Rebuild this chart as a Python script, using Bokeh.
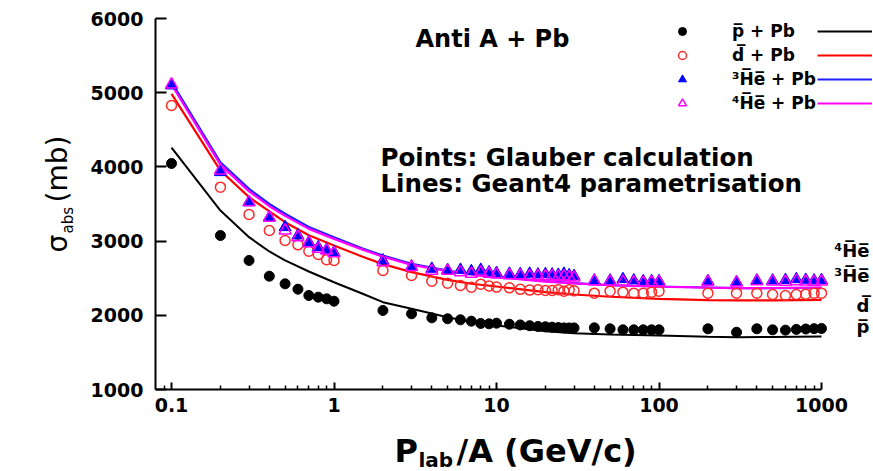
import math
from bokeh.plotting import figure
from bokeh.models import Range1d, FixedTicker, Label, Legend, LegendItem, BasicTickFormatter
from bokeh.embed import file_html
from bokeh.resources import INLINE

# ---------------- data ----------------
x_glauber = [0.1, 0.2, 0.3, 0.4, 0.5, 0.6, 0.7, 0.8, 0.9, 1,
             2, 3, 4, 5, 6, 7, 8, 9, 10,
             12, 14, 16, 18, 20, 22, 24, 26, 28, 30,
             40, 50, 60, 70, 80, 90, 100,
             200, 300, 400, 500, 600, 700, 800, 900, 1000]

pbar_pts = [4046, 3075, 2739, 2527, 2424, 2352, 2267, 2244, 2222, 2190,
            2065, 2020, 1966, 1953, 1939, 1921, 1890, 1885, 1894,
            1880, 1870, 1860, 1850, 1845, 1840, 1835, 1830, 1830, 1830,
            1831, 1818, 1804, 1804, 1804, 1804, 1804,
            1818, 1772, 1818, 1804, 1800, 1810, 1815, 1820, 1822]

dbar_pts = [4828, 3727, 3358, 3143, 3008, 2950, 2864, 2819, 2748, 2739,
            2604, 2536, 2460, 2433, 2402, 2379, 2420, 2395, 2380,
            2370, 2350, 2340, 2344, 2334, 2334, 2344, 2325, 2344, 2330,
            2298, 2325, 2312, 2298, 2298, 2312, 2325,
            2298, 2298, 2298, 2280, 2267, 2280, 2285, 2298, 2298]

he3_pts = [5097, 3929, 3524, 3320, 3188, 3076, 2985, 2918, 2883, 2850,
           2739, 2658, 2627, 2610, 2613, 2595, 2613, 2580, 2570,
           2560, 2555, 2560, 2550, 2555, 2550, 2545, 2560, 2540, 2530,
           2469, 2469, 2487, 2470, 2460, 2460, 2460,
           2460, 2446, 2469, 2469, 2475, 2487, 2478, 2469, 2475]

he4_pts = [5110, 3951, 3524, 3314, 3143, 3053, 2972, 2896, 2873, 2837,
           2716, 2650, 2600, 2600, 2580, 2560, 2575, 2560, 2550,
           2540, 2535, 2530, 2530, 2525, 2530, 2520, 2525, 2515, 2510,
           2460, 2455, 2450, 2445, 2440, 2445, 2445,
           2450, 2440, 2460, 2455, 2450, 2460, 2455, 2450, 2455]

x_geant = [0.1, 0.2, 0.3, 0.4, 0.5, 0.7, 1, 1.5, 2, 3, 5, 7, 10, 20, 30, 50, 100, 200, 300, 500, 1000]
pbar_line = [4260, 3412, 3053, 2860, 2739, 2590, 2446, 2290, 2177, 2087, 1974, 1910, 1862, 1786, 1759, 1740, 1728, 1712, 1705, 1708, 1714]
dbar_line = [4985, 3951, 3592, 3400, 3255, 3080, 2941, 2790, 2690, 2582, 2478, 2425, 2388, 2312, 2280, 2250, 2222, 2205, 2200, 2200, 2209]
he3_line = [5142, 4063, 3704, 3500, 3368, 3190, 3053, 2900, 2806, 2694, 2604, 2555, 2523, 2460, 2433, 2405, 2388, 2375, 2366, 2366, 2370]
he4_line = [5110, 4030, 3670, 3470, 3340, 3165, 3030, 2885, 2790, 2680, 2595, 2550, 2515, 2455, 2430, 2405, 2385, 2372, 2366, 2368, 2372]

series_labels = ["p\u0305 + Pb", "d\u0305 + Pb", "\u00b3H\u0305e\u0305 + Pb", "\u2074H\u0305e\u0305 + Pb"]
side_labels = ["\u2074H\u0305e\u0305", "\u00b3H\u0305e\u0305", "d\u0305", "p\u0305"]

x_major = [0.1, 1, 10, 100, 1000]
x_tick_labels = ["0.1", "1", "10", "100", "1000"]
x_minor = [0.09, 0.2, 0.3, 0.4, 0.5, 0.6, 0.7, 0.8, 0.9,
           2, 3, 4, 5, 6, 7, 8, 9,
           20, 30, 40, 50, 60, 70, 80, 90,
           200, 300, 400, 500, 600, 700, 800, 900]
y_major = [1000, 2000, 3000, 4000, 5000, 6000]

FONT = "DejaVu Sans"

# ---------------- layout geometry (pixels) ----------------
W, H = 873, 471
FL, FR, FT, FB = 155, 821, 18, 389          # axis box in canvas pixels
X_LO, X_HI = 0.0797, 1000.0
Y_LO, Y_HI = 1000.0, 6000.0
# extend ranges so the frame fills the whole canvas and the axes sit at the box
lx0, lx1 = math.log10(X_LO), math.log10(X_HI)
ppd = (FR - FL) / (lx1 - lx0)
xr0 = 10 ** (lx0 - FL / ppd)
xr1 = 10 ** (lx1 + (W - FR) / ppd)
ppu = (FB - FT) / (Y_HI - Y_LO)
yr0 = Y_LO - (H - FB) / ppu
yr1 = Y_HI + FT / ppu

p = figure(width=W, height=H, x_axis_type="log",
           x_range=Range1d(xr0, xr1), y_range=Range1d(yr0, yr1),
           output_backend="svg", toolbar_location=None, min_border=0)
p.outline_line_color = None
p.grid.visible = False
p.background_fill_color = "white"
p.border_fill_color = "white"

xa = p.xaxis[0]
ya = p.yaxis[0]
xa.fixed_location = Y_LO
ya.fixed_location = X_LO
xa.bounds = (X_LO, X_HI)
ya.bounds = (Y_LO, Y_HI)
xa.ticker = FixedTicker(ticks=x_major, minor_ticks=x_minor)
xa.formatter = BasicTickFormatter(use_scientific=False)
xa.major_label_overrides = {t: l for t, l in zip(x_major, x_tick_labels)}
ya.ticker = FixedTicker(ticks=y_major, minor_ticks=[])

for ax in (xa, ya):
    ax.axis_line_width = 2
    ax.axis_line_color = "black"
    ax.major_tick_line_width = 2
    ax.major_tick_line_color = "black"
    ax.major_tick_out = 0
    ax.minor_tick_out = 0
    ax.major_label_text_font = FONT
    ax.major_label_text_font_style = "bold"
    ax.major_label_text_font_size = "19px"
    ax.major_label_text_color = "black"
xa.major_tick_in = 7
xa.minor_tick_in = 4
xa.minor_tick_line_width = 1.5
xa.minor_tick_line_color = "black"
xa.major_label_standoff = 8
ya.major_tick_in = 11
ya.minor_tick_line_color = None
ya.major_label_standoff = 12

# ---------------- lines ----------------
l_p = p.line(x_geant, pbar_line, line_color="black", line_width=2)
l_d = p.line(x_geant, dbar_line, line_color="#ff0000", line_width=2.2)
l_h3 = p.line(x_geant, he3_line, line_color="#1f1fff", line_width=2.2)
l_h4 = p.line(x_geant, he4_line, line_color="#ff00ff", line_width=2.2)

# ---------------- points ----------------
s_p = p.scatter(x_glauber, pbar_pts, marker="circle", size=10, fill_color="black", line_color="black")
s_d = p.scatter(x_glauber, dbar_pts, marker="circle", size=10, fill_color=None, line_color="#ff2a2a", line_width=1.5)
s_h3 = p.scatter(x_glauber, he3_pts, marker="triangle", size=12, fill_color="#0000ff", line_color="#0000ff")
s_h4 = p.scatter(x_glauber, he4_pts, marker="triangle", size=12, fill_color=None, line_color="#ff00ff", line_width=1.5)

# ---------------- legends ----------------
legA = Legend(items=[LegendItem(label=lab, renderers=[r]) for lab, r in zip(series_labels, [s_p, s_d, s_h3, s_h4])],
              location=(672, 358), orientation="vertical",
              border_line_color=None, background_fill_alpha=0,
              padding=0, margin=0, spacing=4,
              glyph_width=20, glyph_height=20, label_height=20,
              label_standoff=40, label_text_color="black",
              label_text_font=FONT, label_text_font_style="bold", label_text_font_size="17px")
p.add_layout(legA)

legB = Legend(items=[LegendItem(label=" ", renderers=[r]) for r in [l_p, l_d, l_h3, l_h4]],
              location=(817, 358), orientation="vertical",
              border_line_color=None, background_fill_alpha=0,
              padding=0, margin=0, spacing=4,
              glyph_width=55, glyph_height=20, label_height=20,
              label_standoff=0, label_text_font_size="2px")
p.add_layout(legB)

# ---------------- texts ----------------
def txt(text, X, Y, size, style="bold", align="left", angle=0.0):
    # X, Y: canvas pixels from top-left (baseline anchor)
    p.add_layout(Label(x=X, y=H - Y, x_units="screen", y_units="screen", text=text,
                       text_font=FONT, text_font_style=style, text_font_size=size,
                       text_align=align, text_baseline="alphabetic", text_color="black",
                       angle=angle))

txt("Anti A + Pb", 415, 38, "24px")
txt("Points: Glauber calculation", 380, 157, "24.5px")
txt("Lines: Geant4 parametrisation", 380, 183, "24.5px")

# right side labels
for lab, Yb in zip(side_labels, [250, 275, 305, 326]):
    txt(lab, 869, Yb, "18px", align="right")

# y axis title: sigma_abs (mb)
txt("\u03c3", 57, 252, "28px", style="normal", angle=math.pi / 2)
txt("abs", 67, 233, "15px", style="normal", angle=math.pi / 2)
txt("(mb)", 57, 202, "28px", style="normal", angle=math.pi / 2)

# x axis title: P_lab/A (GeV/c)
txt("P", 394, 450, "32px")
txt("lab", 418, 459, "20px")
txt("/A (GeV/c)", 456, 450, "32px")

open("out.html", "w").write(file_html(p, INLINE))
